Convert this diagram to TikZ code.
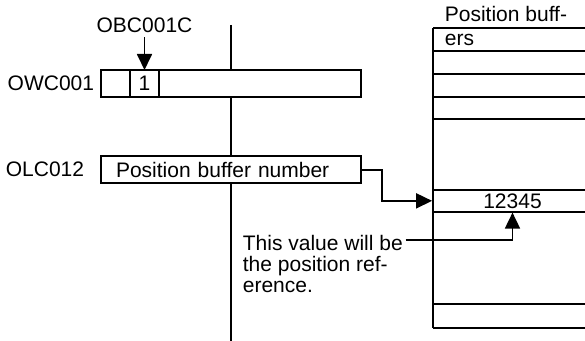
\documentclass[tikz,border=0pt]{standalone}
\usepackage{fontspec}
\setmainfont{Liberation Sans}
\usetikzlibrary{arrows.meta,positioning}

\begin{document}
\begin{tikzpicture}[x=0.5pt,y=-0.5pt,line width=0.9pt,
  >={Triangle[length=8pt,width=7.5pt]},
  txt/.style={inner sep=0pt,font=\fontsize{10.5}{10.5}\selectfont},
  reg/.style={draw,fill=white,minimum width=130pt,minimum height=13.5pt,
              inner sep=0pt,outer sep=0pt,font=\fontsize{10.5}{10.5}\selectfont},
  cell/.style={draw,minimum width=14.5pt,minimum height=13.5pt,
               inner sep=0pt,outer sep=0pt,font=\fontsize{10.5}{10.5}\selectfont}]
  \useasboundingbox (0,0) rectangle (585,341);
  % divider
  \draw (231,25) -- (231,341);
  % registers
  \node[reg] (owc) at (231,83.5) {};
  \node[cell,anchor=west] (bit0) at (owc.west) {};
  \node[cell,anchor=west] (bit1) at (bit0.east) {1};
  \node[txt,left=3pt of owc] (owcl) {OWC001};
  \node[txt,above=18.3pt of bit1] (obc) {OBC001C};
  \draw[->,shorten <=2pt] (obc) -- (bit1);
  \node[reg,text width=115pt,align=left,inner xsep=7.5pt] (olc) at (231,169.75)
    {Position buffer number};
  \node[txt,left=8pt of olc] (olcl) {OLC012};
  % position buffer table
  \draw (433,28.3) -- (433,328.3);
  \foreach \y in {28.3,50.7,74,96.7,119,190,211.7,304.3,328.3}
    \draw (433,\y) -- (585,\y);
  \node[txt,align=left,anchor=north west,font=\fontsize{10.5}{12}\selectfont]
    (title) at (444,5) {Position buff-\\ers};
  \node[txt,minimum width=79.5pt,minimum height=10.85pt] (val) at (512.5,200.85) {12345};
  \draw[->] (olc.east) -- ++(21,0) |- (val.west);
  % note
  \node[txt,align=left,anchor=north west] (note) at (242,234.4)
    {This value will be\\the position ref-\\erence.};
  \coordinate (tap) at ([xshift=1pt,yshift=-2.8pt]note.north east);
  \draw[->] (tap) -| (val.south);
\end{tikzpicture}
\end{document}
